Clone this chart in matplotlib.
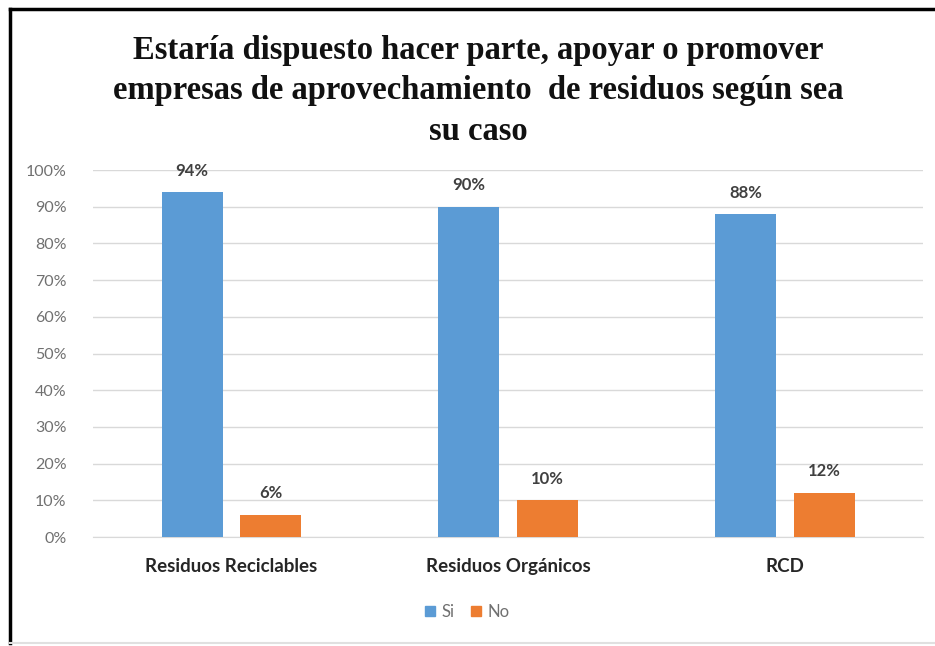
import matplotlib.pyplot as plt
import numpy as np
from matplotlib.lines import Line2D
from matplotlib.patches import Patch
from matplotlib.ticker import PercentFormatter

categories = ["Residuos Reciclables", "Residuos Orgánicos", "RCD"]
si = [0.94, 0.90, 0.88]
no = [0.06, 0.10, 0.12]
series = ["Si", "No"]
title = ("Estaría dispuesto hacer parte, apoyar o promover\n"
         "empresas de aprovechamiento  de residuos según sea\n"
         "su caso")

BLUE = "#5B9BD5"
ORANGE = "#ED7D31"

fig = plt.figure(figsize=(9.35, 6.46), dpi=100)
ax = fig.add_axes([0.0995, 0.1687, 0.888, 0.568])

x = np.arange(len(categories))
w = 0.221
off = 0.142
b1 = ax.bar(x - off, si, w, color=BLUE, zorder=3)
b2 = ax.bar(x + off, no, w, color=ORANGE, zorder=3)

lab = dict(ha="center", va="center", fontsize=12, fontweight="bold",
           color="#404040", family="Lato", textcoords="offset points")
for bars, vals in [(b1, si), (b2, no)]:
    for rect, v in zip(bars, vals):
        ax.annotate(f"{v:.0%}", (rect.get_x() + rect.get_width() / 2, v),
                    xytext=(0, 15.5), **lab)

ax.set_xlim(-0.5, len(categories) - 0.5)
ax.set_ylim(0, 1)
ax.set_yticks(np.arange(0, 1.01, 0.1))
ax.yaxis.set_major_formatter(PercentFormatter(1.0, decimals=0))
ax.grid(axis="y", color="#D9D9D9", linewidth=1, zorder=0)
for s in ["top", "right", "left"]:
    ax.spines[s].set_visible(False)
ax.spines["bottom"].set_color("#D9D9D9")
ax.tick_params(length=0)
ax.tick_params(axis="y", labelsize=11.5, labelcolor="#707070", pad=19)
ax.set_xticks(x)
ax.set_xticklabels(categories, fontsize=13.5, fontweight="bold",
                   color="#262626", family="Lato")
ax.tick_params(axis="x", pad=15)
for t in ax.get_yticklabels():
    t.set_family("Lato")

fig.text(0.512, 1 - 91 / 646, title, ha="center", va="center", fontsize=23.5,
         fontweight="bold", family="Liberation Serif", linespacing=1.4,
         color="#111111")

handles = [Patch(color=BLUE, label=series[0]), Patch(color=ORANGE, label=series[1])]
fig.legend(handles=handles, loc="center", bbox_to_anchor=(0.5, 1 - 612 / 646), ncol=2,
           frameon=False, handlelength=0.6, handleheight=0.6, handletextpad=0.4,
           columnspacing=1.0, prop={"family": "Lato", "size": 12},
           labelcolor="#707070")

# frame: black on left and top, faint grey at the bottom
fx0, fy0, fy1 = 9.5 / 935, 1 - 643 / 646, 1 - 8.5 / 646
fig.add_artist(Line2D([fx0, fx0], [fy0, fy1], color="black", linewidth=2.5,
                      transform=fig.transFigure))
fig.add_artist(Line2D([fx0, 1], [fy1, fy1], color="black", linewidth=2.5,
                      transform=fig.transFigure))
fig.add_artist(Line2D([fx0, 1], [fy0, fy0], color="#E0E0E0", linewidth=1.5,
                      transform=fig.transFigure))

fig.savefig("out.png", dpi=100)
